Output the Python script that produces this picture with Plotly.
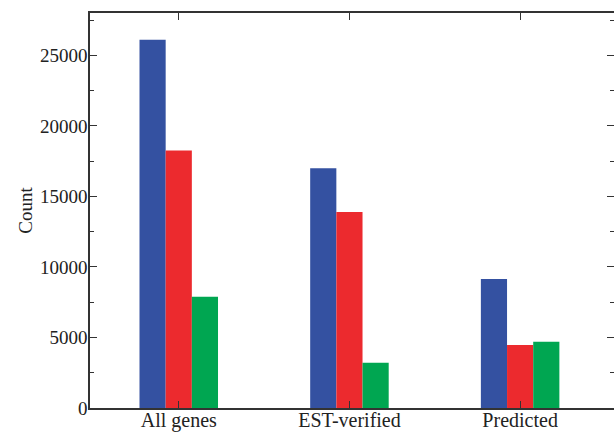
import plotly.graph_objects as go

categories = ["All genes", "EST-verified", "Predicted"]
series_a = [26100, 17000, 9150]
series_b = [18250, 13900, 4470]
series_c = [7880, 3200, 4690]
y_ticks = [0, 5000, 10000, 15000, 20000, 25000]

colors = ["#3451a1", "#ec2a2e", "#00a651"]
xpos = list(range(len(categories)))

fig = go.Figure()
for vals, col in zip([series_a, series_b, series_c], colors):
    fig.add_trace(go.Bar(x=xpos, y=vals, marker=dict(color=col, line=dict(width=0)),
                         showlegend=False))

family = "Liberation Serif, Times New Roman, serif"
xfont = dict(family=family, size=20, color="#222")
yfont = dict(family=family, size=19, color="#222")
axcol = "#333333"
fig.update_layout(
    width=614, height=432,
    margin=dict(l=90, r=0, t=13, b=24),
    barmode="group", bargap=0.54, bargroupgap=0,
    plot_bgcolor="white", paper_bgcolor="white",
    font=yfont,
    xaxis=dict(range=[-0.52, 2.55], tickvals=xpos, ticktext=categories,
               showline=True, linecolor=axcol, linewidth=1.5, mirror="allticks",
               ticks="inside", ticklen=7, tickcolor=axcol, tickwidth=1.2,
               showgrid=False, zeroline=False, tickfont=xfont, automargin=False,
               ticklabelstandoff=-7),
    yaxis=dict(range=[0, 28000], tickvals=y_ticks, ticktext=[str(v) for v in y_ticks],
               showline=True, linecolor=axcol, linewidth=1.5, mirror="allticks",
               ticks="inside", ticklen=7, tickcolor=axcol, tickwidth=1.2,
               minor=dict(ticks="inside", dtick=2500, ticklen=4, tickcolor=axcol, tickwidth=1),
               showgrid=False, zeroline=False, tickfont=yfont, ticklabelstandoff=-3,
               automargin=False,
               title=dict(text="Count", font=yfont, standoff=2)),
)
fig.write_html("out.html", config={"displayModeBar": False},
               post_script="document.body.style.margin='0';document.body.style.overflow='hidden';")
